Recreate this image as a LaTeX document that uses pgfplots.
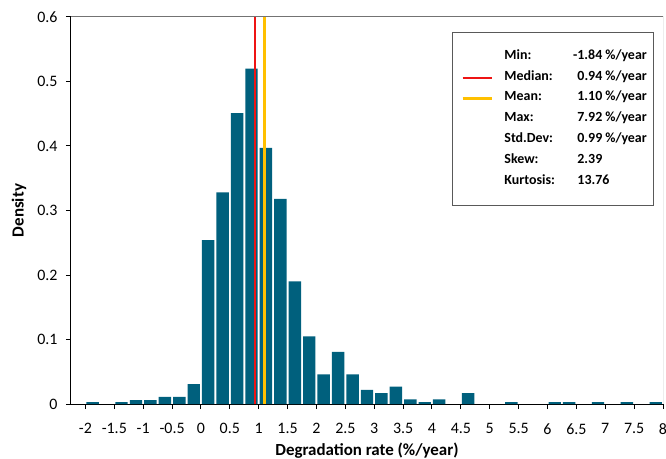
\documentclass[border=0pt]{standalone}
\usepackage{fontspec}
\setmainfont{Carlito}
\usepackage{pgfplots}
\pgfplotsset{compat=1.18}

\definecolor{barteal}{RGB}{0,96,125}
\definecolor{medred}{RGB}{238,20,20}
\definecolor{meanorange}{RGB}{255,192,0}

% one legend line: label column, then value column
\newcommand\entry[2]{\makebox[73bp][l]{#1}\makebox[67bp][l]{#2}}
\newcommand\unit{\hspace{3bp}\%/year}

\begin{document}
\begin{tikzpicture}
\useasboundingbox (-71bp,-55bp) rectangle (595bp,404bp);
\begin{axis}[
    scale only axis,
    width=592bp, height=387bp,
    xmin=-2.25, xmax=8,
    ymin=0, ymax=0.6,
    axis lines=left,
    axis line style={-, black, line width=1bp},
    xtick={-2,-1.5,-1,-0.5,0,0.5,1,1.5,2,2.5,3,3.5,4,4.5,5,5.5,6,6.5,7,7.5,8},
    ytick={0,0.1,0.2,0.3,0.4,0.5,0.6},
    tick align=outside,
    major tick length=5bp,
    tick style={black, line width=1bp},
    /pgf/number format/assume math mode=true,
    ticklabel style={font=\fontsize{16}{19}\selectfont},
    yticklabel style={xshift=-5bp},
    xticklabel style={yshift=-11bp},
    xlabel={Degradation rate (\%/year)},
    ylabel={Density},
    label style={font=\bfseries\fontsize{17}{20}\selectfont},
    xlabel style={at={(axis description cs:0.5,-0.1214)}, anchor=center},
    ylabel style={at={(axis description cs:-0.0878,0.5)}, anchor=center, rotate=0},
    legend image code/.code={\draw[#1] (0bp,0bp) -- (29bp,0bp);},
    legend cell align=left,
    legend style={
        at={(axis description cs:0.6436,0.9605)}, anchor=north west,
        draw=black!65, line width=1bp, fill=white,
        inner xsep=9bp, inner ysep=19bp,
        column sep=11.7bp, row sep=10.9bp,
        nodes={inner sep=0pt, text height=0.75em, text depth=0.25em},
        font=\bfseries\fontsize{14}{16}\selectfont,
    },
]
% histogram, bins of 0.25 %/year, plotted at bin centres
\addplot[ybar, bar width=0.215, fill=barteal, draw=none, forget plot] coordinates {
    (-1.875,0.003) (-1.375,0.003) (-1.125,0.006) (-0.875,0.006)
    (-0.625,0.011) (-0.375,0.011) (-0.125,0.031)
    (0.125,0.254) (0.375,0.328) (0.625,0.451) (0.875,0.520)
    (1.125,0.397) (1.375,0.318) (1.625,0.190) (1.875,0.105)
    (2.125,0.046) (2.375,0.081) (2.625,0.046) (2.875,0.022)
    (3.125,0.017) (3.375,0.027) (3.625,0.007) (3.875,0.003)
    (4.125,0.007) (4.625,0.017) (5.375,0.003)
    (6.125,0.003) (6.375,0.003) (6.875,0.003) (7.375,0.003) (7.875,0.003)
};
% median and mean
\addplot[medred, line width=2.2bp, forget plot] coordinates {(0.94,0) (0.94,0.6)};
\addplot[meanorange, line width=2.2bp, forget plot] coordinates {(1.10,0) (1.10,0.6)};

% grey top and right frame
\draw[black!55, line width=1bp] (rel axis cs:0,1) -- (rel axis cs:1,1) -- (rel axis cs:1,0);

\addlegendimage{empty legend}
\addlegendentry{\entry{Min:}{\llap{-}1.84\unit}}
\addlegendimage{medred, line width=2.2bp}
\addlegendentry{\entry{Median:}{0.94\unit}}
\addlegendimage{meanorange, line width=2.2bp}
\addlegendentry{\entry{Mean:}{1.10\unit}}
\addlegendimage{empty legend}
\addlegendentry{\entry{Max:}{7.92\unit}}
\addlegendimage{empty legend}
\addlegendentry{\entry{Std.Dev:}{0.99\unit}}
\addlegendimage{empty legend}
\addlegendentry{\entry{Skew:}{2.39}}
\addlegendimage{empty legend}
\addlegendentry{\entry{Kurtosis:}{13.76\rule[-9bp]{0pt}{9bp}}}
\end{axis}
\end{tikzpicture}
\end{document}
